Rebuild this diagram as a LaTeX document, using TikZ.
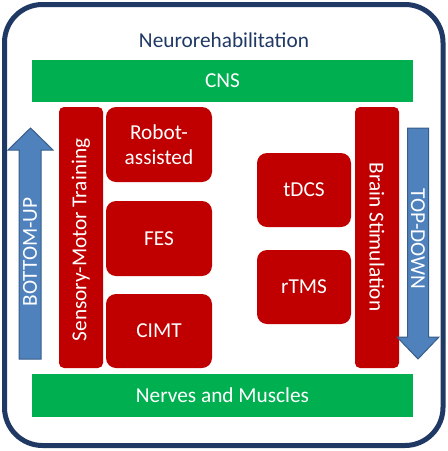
\documentclass[tikz,border=0pt]{standalone}
\usepackage{fontspec}
\setmainfont{Carlito}
\definecolor{navy}{RGB}{31,56,100}
\definecolor{boxred}{RGB}{192,0,0}
\definecolor{bargreen}{RGB}{0,176,80}
\definecolor{arrfill}{RGB}{79,129,189}
\definecolor{arrline}{RGB}{56,93,138}
\begin{document}
\begin{tikzpicture}[x=1pt,y=-1pt,
  txt/.style={font=\fontsize{21.3}{25.6}\selectfont, text=white, align=center, inner sep=0pt},
  redbox/.style={fill=boxred, rounded corners=10pt},
  redbar/.style={fill=boxred, rounded corners=5pt},
  greenbar/.style={fill=bargreen},
  arrowshape/.style={fill=arrfill, draw=arrline, line width=1pt, line join=miter}]
\useasboundingbox (0,0) rectangle (448,451);
% outer frame
\draw[navy, line width=5pt, rounded corners=38pt] (4.5,4.5) rectangle (443,445.5);
\node[font=\fontsize{21.3}{25.6}\selectfont, text=navy, inner sep=0pt] (title) at (224,40) {Neurorehabilitation};
% green bars
\fill[greenbar] (32,60) rectangle (413,102);
\node[txt] (cns) at (222.5,81) {CNS};
\fill[greenbar] (32,374) rectangle (413,417);
\node[txt] (nerves) at (222.5,395.5) {Nerves and Muscles};
% red bars
\fill[redbar] (59,107) rectangle (103,368);
\node[txt, rotate=90] (smt) at (81,240) {Sensory-Motor Training};
\fill[redbar] (355,107) rectangle (399,368);
\node[txt, rotate=-90] (bs) at (377,237) {Brain Stimulation};
% red boxes
\fill[redbox] (106,107) rectangle (212,182);
\node[txt] (robot) at (159,144.5) {Robot-\\assisted};
\fill[redbox] (106,201) rectangle (212,276);
\node[txt] (fes) at (159,238.5) {FES};
\fill[redbox] (106,294) rectangle (212,368);
\node[txt] (cimt) at (159,331) {CIMT};
\fill[redbox] (257,153) rectangle (351,227);
\node[txt] (tdcs) at (304,190) {tDCS};
\fill[redbox] (257,250) rectangle (351,324);
\node[txt] (rtms) at (304,287) {rTMS};
% arrows
\draw[arrowshape] (19,359) -- (19,150) -- (8,150) -- (30.5,128) -- (53,150) -- (41,150) -- (41,359) -- cycle;
\node[txt, rotate=90] (bu) at (30,252) {BOTTOM-UP};
\draw[arrowshape] (407.5,128) -- (428.5,128) -- (428.5,337) -- (439,337) -- (418,359) -- (397,337) -- (407.5,337) -- cycle;
\node[txt, rotate=-90] (td) at (418,239) {TOP-DOWN};
\end{tikzpicture}
\end{document}
